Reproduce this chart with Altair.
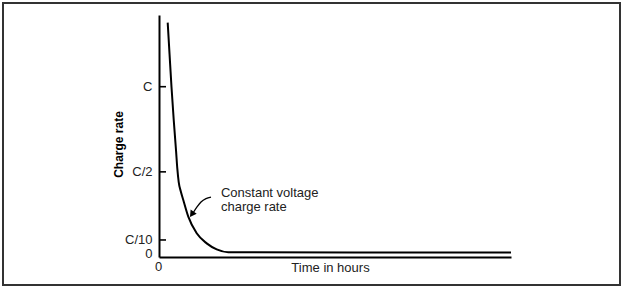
import altair as alt
import pandas as pd

FONT = "Liberation Sans"

# Curve (time in arbitrary hours 0..100, charge rate in units of C)
curve_t = [2.47, 3.0, 3.55, 4.2, 4.83, 5.2, 5.6, 6.2, 6.9, 8.32, 10.71, 13.55, 16.39, 19.69, 100]
curve_r = [1.376, 1.19, 0.998, 0.80, 0.628, 0.520, 0.440, 0.385, 0.335, 0.237, 0.139, 0.080, 0.045, 0.028, 0.026]

# y tick values and labels
tick_vals = [0, 0.1, 0.5, 1]
inner_ticks = [0.1, 0.5, 1]

# annotation
note_lines = ["Constant voltage", "charge rate"]
note_t = [17.6, 17.6]
note_r = [0.374, 0.295]
arrow_t = [14.77, 13.35, 11.93, 10.8, 9.66]
arrow_r = [0.352, 0.343, 0.323, 0.294, 0.258]
head_t = [9.5]
head_r = [0.256]

curve_df = pd.DataFrame({"t": curve_t, "r": curve_r, "o": range(len(curve_t))})
tick_df = pd.DataFrame({"r": inner_ticks})
note_df = pd.DataFrame({"t": note_t, "r": note_r, "txt": note_lines})
arrow_df = pd.DataFrame({"t": arrow_t, "r": arrow_r, "o": range(len(arrow_t))})
head_df = pd.DataFrame({"t": head_t, "r": head_r})

xs = alt.Scale(domain=[0, 100], nice=False, zero=False)
ys = alt.Scale(domain=[0, 1.421], nice=False, zero=False)

x_axis = alt.Axis(
    values=[0], labelExpr="'0'", title="Time in hours", grid=False,
    ticks=False, tickSize=0, labelPadding=3, labelFontSize=13, labelFont=FONT,
    labelColor="#222", labelFlush=False, labelOffset=-1,
    domainColor="black", domainWidth=2,
    titleFont=FONT, titleFontSize=13, titleFontWeight="normal", titleColor="#222",
    titleX=171, titleY=10, titleBaseline="middle", titleAlign="center",
)
y_axis = alt.Axis(
    values=tick_vals,
    labelExpr="datum.value == 1 ? 'C' : datum.value == 0.5 ? 'C/2' : datum.value == 0.1 ? 'C/10' : '0'",
    labelOffset=alt.expr("datum.value == 0 ? -4 : 0"),
    title="Charge rate", grid=False, ticks=False, tickSize=0, labelPadding=7,
    labelFontSize=13, labelFont=FONT, labelColor="#222", labelFlush=False,
    domainColor="black", domainWidth=2,
    titleFont=FONT, titleFontSize=12, titleFontWeight="bold", titleColor="black",
    titleAngle=270, titleX=-41, titleY=129, titleBaseline="middle", titleAlign="center",
)

line = alt.Chart(curve_df).mark_line(
    color="black", strokeWidth=2, strokeJoin="round", interpolate="monotone"
).encode(
    x=alt.X("t:Q", scale=xs, axis=x_axis),
    y=alt.Y("r:Q", scale=ys, axis=y_axis),
    order="o:Q",
)

ticks = alt.Chart(tick_df).mark_rule(color="black", strokeWidth=1.6).encode(
    x=alt.value(0), x2=alt.value(7), y=alt.Y("r:Q", scale=ys)
)

notes = alt.Chart(note_df).mark_text(
    align="left", baseline="middle", font=FONT, fontSize=13, color="#222"
).encode(x=alt.X("t:Q", scale=xs), y=alt.Y("r:Q", scale=ys), text="txt:N")

arrow = alt.Chart(arrow_df).mark_line(color="black", strokeWidth=1.3, interpolate="monotone").encode(
    x=alt.X("t:Q", scale=xs), y=alt.Y("r:Q", scale=ys), order="o:Q"
)

head = alt.Chart(head_df).mark_point(
    shape="triangle", filled=True, color="black", size=55, angle=215, opacity=1
).encode(x=alt.X("t:Q", scale=xs), y=alt.Y("r:Q", scale=ys))

frame = alt.Chart(pd.DataFrame({"a": [0]})).mark_rect(
    fill=None, stroke="#333", strokeWidth=2
).encode(x=alt.value(-156), x2=alt.value(461), y=alt.value(-12), y2=alt.value(270))

chart = alt.layer(frame, line, ticks, arrow, head, notes).properties(
    width=352, height=242,
    autosize=alt.AutoSizeParams(type="none"),
    padding={"left": 159, "top": 15, "right": 113, "bottom": 32},
    background="white",
).configure_view(stroke=None)

chart.save("out.html", embed_options={"renderer": "svg", "actions": False})
